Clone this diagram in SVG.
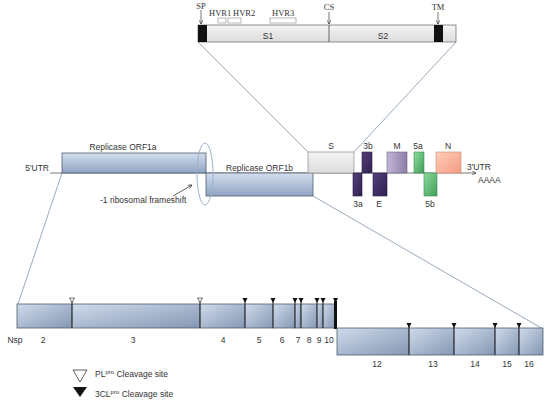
<svg xmlns="http://www.w3.org/2000/svg" width="550" height="406" viewBox="0 0 550 406">
<defs>
<linearGradient id="gBlueV" x1="0" y1="0" x2="0" y2="1"><stop offset="0" stop-color="#d3deee"/><stop offset="1" stop-color="#8fa4c2"/></linearGradient>
<linearGradient id="gBlueD" x1="0" y1="0" x2="1" y2="1"><stop offset="0" stop-color="#cfdbec"/><stop offset="1" stop-color="#8597b3"/></linearGradient>
<linearGradient id="gGrey" x1="0" y1="0" x2="0" y2="1"><stop offset="0" stop-color="#f4f4f4"/><stop offset="1" stop-color="#dcdcdc"/></linearGradient>
<linearGradient id="gDP" x1="0" y1="0" x2="1" y2="1"><stop offset="0" stop-color="#54407a"/><stop offset="1" stop-color="#2f2050"/></linearGradient>
<linearGradient id="gLP" x1="0" y1="0" x2="1" y2="0"><stop offset="0" stop-color="#c2b6d6"/><stop offset="1" stop-color="#8c7ea6"/></linearGradient>
<linearGradient id="gGr" x1="0" y1="0" x2="1" y2="1"><stop offset="0" stop-color="#8fdc9c"/><stop offset="1" stop-color="#3d9f57"/></linearGradient>
<linearGradient id="gN" x1="0" y1="0" x2="1" y2="1"><stop offset="0" stop-color="#ffcdb8"/><stop offset="1" stop-color="#f59c82"/></linearGradient>
<marker id="arr" viewBox="0 0 10 10" refX="9" refY="5" markerWidth="6" markerHeight="6" orient="auto"><path d="M1,1 L9,5 L1,9" fill="none" stroke="#333" stroke-width="1.4"/></marker>
</defs>
<style>
.t{font-family:"Liberation Sans",Arial,sans-serif;font-size:8.5px;fill:#333}
.s{font-family:"Liberation Serif","Times New Roman",serif;font-size:8.5px;fill:#333}
.box{stroke:#4f5d72;stroke-width:0.8}
.div{stroke:#333;stroke-width:1}
.ln{stroke:#555;stroke-width:0.8;fill:none}
.exp{stroke:#8fa0b6;stroke-width:0.9;fill:none}
</style>
<rect width="550" height="406" fill="#fff"/>

<g id="connectors">
<line class="exp" x1="198" y1="42" x2="308" y2="152"/>
<line class="exp" x1="456" y1="42" x2="354" y2="152"/>
<line class="exp" x1="62" y1="173" x2="18" y2="304"/>
<line class="exp" x1="313" y1="196" x2="543" y2="329"/>
<line class="ln" x1="50" y1="173" x2="476" y2="173" marker-end="url(#arr)"/>
<line x1="173" y1="196" x2="192" y2="185" stroke="#333" stroke-width="0.8" marker-end="url(#arr)"/>
<line class="ln" x1="201" y1="10" x2="201" y2="24" marker-end="url(#arr)"/>
<line class="ln" x1="329" y1="12" x2="329" y2="24" marker-end="url(#arr)"/>
<line class="ln" x1="438" y1="12" x2="438" y2="24" marker-end="url(#arr)"/>
</g>

<g id="spike">
<rect x="198" y="25" width="258" height="17" fill="url(#gGrey)" stroke="#777" stroke-width="0.8"/>
<rect x="198" y="25" width="9" height="17" fill="#111"/>
<rect x="434" y="25" width="9" height="17" fill="#111"/>
<line x1="329" y1="25" x2="329" y2="42" stroke="#666" stroke-width="1"/>
<text class="t" x="268" y="39" text-anchor="middle">S1</text>
<text class="t" x="383" y="39" text-anchor="middle">S2</text>
<text class="s" x="201" y="9" text-anchor="middle">SP</text>
<text class="s" x="329" y="10" text-anchor="middle">CS</text>
<text class="s" x="438" y="10" text-anchor="middle">TM</text>
<text class="s" x="209" y="16">HVR1</text>
<text class="s" x="233" y="16">HVR2</text>
<text class="s" x="272" y="16">HVR3</text>
<rect x="218" y="18" width="8" height="5" fill="none" stroke="#999" stroke-width="0.7"/>
<rect x="228" y="18" width="13" height="5" fill="none" stroke="#999" stroke-width="0.7"/>
<rect x="270" y="18" width="26" height="5" fill="none" stroke="#999" stroke-width="0.7"/>
</g>

<g id="genome">
<text class="t" x="49" y="171" text-anchor="end">5'UTR</text>
<rect class="box" x="62" y="153" width="144" height="20" fill="url(#gBlueV)"/>
<text class="t" x="123" y="150" text-anchor="middle">Replicase ORF1a</text>
<rect class="box" x="206" y="173" width="107" height="23" fill="url(#gBlueV)"/>
<text class="t" x="226" y="171">Replicase ORF1b</text>
<ellipse cx="205" cy="174" rx="8" ry="31" fill="none" stroke="#9bb3cc" stroke-width="1"/>
<text class="t" x="100" y="203">-1 ribosomal frameshift</text>
</g>

<g id="structural">
<rect x="308" y="152" width="46" height="21" fill="url(#gGrey)" stroke="#999" stroke-width="0.8"/>
<text class="t" x="331" y="149" text-anchor="middle">S</text>
<rect x="353" y="173" width="9" height="23" fill="url(#gDP)" stroke="#2a1c45" stroke-width="0.6"/>
<rect x="362" y="152" width="10" height="21" fill="url(#gDP)" stroke="#2a1c45" stroke-width="0.6"/>
<rect x="373" y="173" width="14" height="23" fill="url(#gDP)" stroke="#2a1c45" stroke-width="0.6"/>
<rect x="387" y="152" width="20" height="21" fill="url(#gLP)" stroke="#6e6088" stroke-width="0.6"/>
<rect x="414" y="152" width="10" height="21" fill="url(#gGr)" stroke="#3a8a4e" stroke-width="0.6"/>
<rect x="424" y="173" width="13" height="23" fill="url(#gGr)" stroke="#3a8a4e" stroke-width="0.6"/>
<rect x="436" y="152" width="25" height="21" fill="url(#gN)" stroke="#c88a78" stroke-width="0.6"/>
<text class="t" x="368" y="149" text-anchor="middle">3b</text>
<text class="t" x="397" y="149" text-anchor="middle">M</text>
<text class="t" x="418" y="149" text-anchor="middle">5a</text>
<text class="t" x="448" y="149" text-anchor="middle">N</text>
<text class="t" x="358" y="207" text-anchor="middle">3a</text>
<text class="t" x="379" y="207" text-anchor="middle">E</text>
<text class="t" x="430" y="207" text-anchor="middle">5b</text>
<text class="t" x="467" y="170">3'UTR</text>
<text class="t" x="478" y="183">AAAA</text>
</g>

<g id="nsp-row1">
<rect class="box" x="17" y="304" width="55" height="24" fill="url(#gBlueD)"/>
<rect class="box" x="72" y="304" width="128" height="24" fill="url(#gBlueD)"/>
<rect class="box" x="200" y="304" width="45" height="24" fill="url(#gBlueD)"/>
<rect class="box" x="245" y="304" width="28" height="24" fill="url(#gBlueD)"/>
<rect class="box" x="273" y="304" width="22" height="24" fill="url(#gBlueD)"/>
<rect class="box" x="295" y="304" width="6" height="24" fill="url(#gBlueD)"/>
<rect class="box" x="301" y="304" width="16" height="24" fill="url(#gBlueD)"/>
<rect class="box" x="317" y="304" width="6" height="24" fill="url(#gBlueD)"/>
<rect class="box" x="323" y="304" width="12" height="24" fill="url(#gBlueD)"/>
<g class="div">
<line x1="72" y1="301" x2="72" y2="328"/><line x1="200" y1="301" x2="200" y2="328"/>
<line x1="245" y1="301" x2="245" y2="328"/><line x1="273" y1="301" x2="273" y2="328"/>
<line x1="295" y1="301" x2="295" y2="328"/><line x1="301" y1="301" x2="301" y2="328"/>
<line x1="317" y1="301" x2="317" y2="328"/><line x1="323" y1="301" x2="323" y2="328"/>
</g>
<line x1="335.5" y1="301" x2="335.5" y2="329" stroke="#111" stroke-width="3"/>
<path d="M69.5,298 L74.5,298 L72,302.5 Z" fill="#fff" stroke="#333" stroke-width="0.7"/>
<path d="M197.5,298 L202.5,298 L200,302.5 Z" fill="#fff" stroke="#333" stroke-width="0.7"/>
<g fill="#111">
<path d="M242.5,298 L247.5,298 L245,303 Z"/><path d="M270.5,298 L275.5,298 L273,303 Z"/>
<path d="M292.5,298 L297.5,298 L295,303 Z"/><path d="M298.5,298 L303.5,298 L301,303 Z"/>
<path d="M314.5,298 L319.5,298 L317,303 Z"/><path d="M320.5,298 L325.5,298 L323,303 Z"/>
<path d="M333,298 L338,298 L335.5,303 Z"/>
</g>
<text class="t" x="15" y="343" text-anchor="middle">Nsp</text>
<text class="t" x="43" y="343" text-anchor="middle">2</text>
<text class="t" x="133" y="343" text-anchor="middle">3</text>
<text class="t" x="223" y="343" text-anchor="middle">4</text>
<text class="t" x="259" y="343" text-anchor="middle">5</text>
<text class="t" x="282" y="343" text-anchor="middle">6</text>
<text class="t" x="298" y="343" text-anchor="middle">7</text>
<text class="t" x="309" y="343" text-anchor="middle">8</text>
<text class="t" x="319" y="343" text-anchor="middle">9</text>
<text class="t" x="329" y="343" text-anchor="middle">10</text>
</g>

<g id="nsp-row2">
<rect class="box" x="337" y="328" width="72" height="27" fill="url(#gBlueD)"/>
<rect class="box" x="409" y="328" width="45" height="27" fill="url(#gBlueD)"/>
<rect class="box" x="454" y="328" width="41" height="27" fill="url(#gBlueD)"/>
<rect class="box" x="495" y="328" width="24" height="27" fill="url(#gBlueD)"/>
<rect class="box" x="519" y="328" width="24" height="27" fill="url(#gBlueD)"/>
<g class="div">
<line x1="409" y1="325" x2="409" y2="355"/><line x1="454" y1="325" x2="454" y2="355"/>
<line x1="495" y1="325" x2="495" y2="355"/><line x1="519" y1="325" x2="519" y2="355"/>
</g>
<g fill="#111">
<path d="M406.5,323 L411.5,323 L409,328 Z"/><path d="M451.5,323 L456.5,323 L454,328 Z"/>
<path d="M492.5,323 L497.5,323 L495,328 Z"/><path d="M516.5,323 L521.5,323 L519,328 Z"/>
</g>
<text class="t" x="377" y="367" text-anchor="middle">12</text>
<text class="t" x="433" y="367" text-anchor="middle">13</text>
<text class="t" x="475" y="367" text-anchor="middle">14</text>
<text class="t" x="507" y="367" text-anchor="middle">15</text>
<text class="t" x="529" y="367" text-anchor="middle">16</text>
</g>

<g id="legend">
<path d="M73,370 L87,370 L80,382 Z" fill="#fff" stroke="#333" stroke-width="0.8"/>
<path d="M73,387 L87,387 L80,397 Z" fill="#111"/>
<text class="t" x="95" y="377">PL<tspan font-size="6" dy="-3">pro</tspan><tspan dy="3"> Cleavage site</tspan></text>
<text class="t" x="95" y="397">3CL<tspan font-size="6" dy="-3">pro</tspan><tspan dy="3"> Cleavage site</tspan></text>
</g>
</svg>
